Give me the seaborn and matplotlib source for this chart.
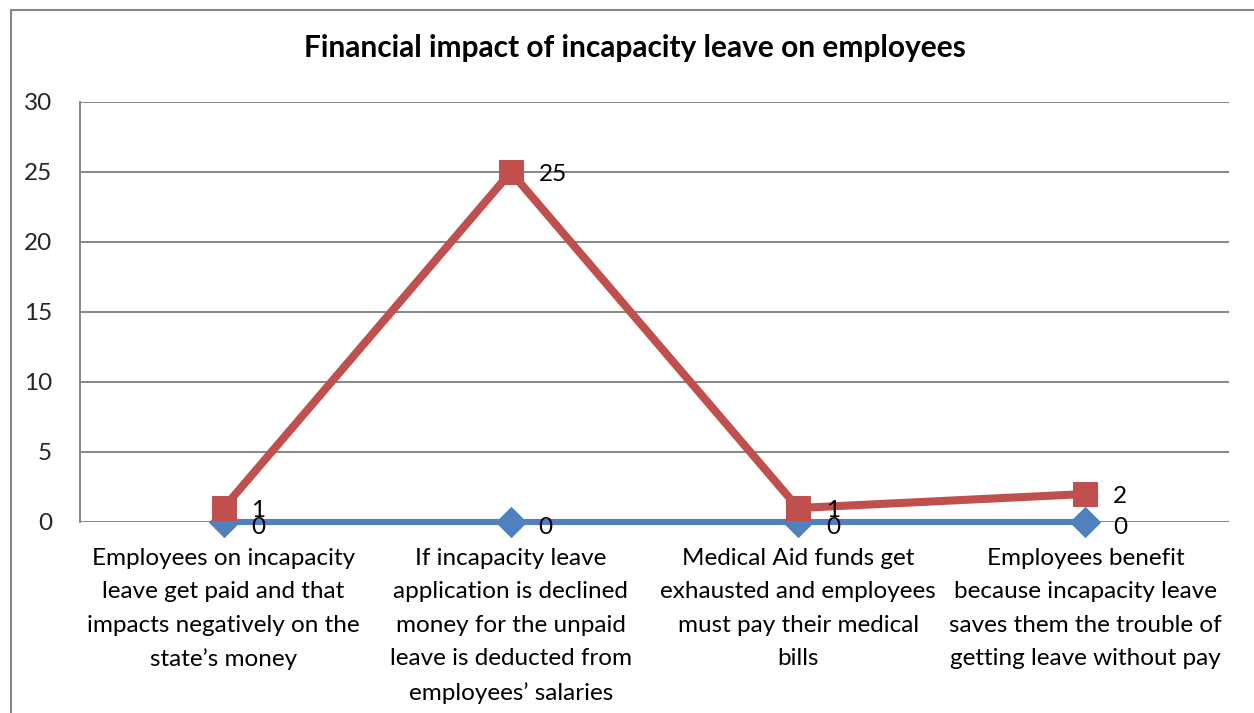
import matplotlib
matplotlib.use("Agg")
import matplotlib.pyplot as plt
from matplotlib.patches import Rectangle
import seaborn as sns
import pandas as pd

# Chart content
title = "Financial impact of incapacity leave on employees"
categories = [
    "Employees on incapacity\nleave get paid and that\nimpacts negatively on the\nstate\u2019s money",
    "If incapacity leave\napplication is declined\nmoney for the unpaid\nleave is deducted from\nemployees\u2019 salaries",
    "Medical Aid funds get\nexhausted and employees\nmust pay their medical\nbills",
    "Employees benefit\nbecause incapacity leave\nsaves them the trouble of\ngetting leave without pay",
]
series_names = ["Series1", "Series2"]
series1_values = [0, 0, 0, 0]
series2_values = [1, 25, 1, 2]
y_ticks = [0, 5, 10, 15, 20, 25, 30]

colors = {"Series1": "#4F81BD", "Series2": "#C0504D"}
markers = {"Series1": "D", "Series2": "s"}

df = pd.DataFrame({
    "pos": list(range(len(categories))) * 2,
    "value": series1_values + series2_values,
    "series": [series_names[0]] * len(categories) + [series_names[1]] * len(categories),
})

sns.set_theme(style="white")
plt.rcParams["font.family"] = ["Lato", "DejaVu Sans"]

W, H = 1254, 713
fig = plt.figure(figsize=(W / 100, H / 100), dpi=100)
ax = fig.add_axes([80 / W, 1 - 522 / H, (1229 - 80) / W, (522 - 102) / H])

# outer chart frame
fig.patches.append(Rectangle((11 / W, -0.1), 1.2, 1 - 10 / H + 0.1, transform=fig.transFigure,
                             fill=False, edgecolor="#868686", linewidth=1.5, zorder=0))

ax.set_axisbelow(True)
ax.yaxis.grid(True, color="#868686", linewidth=1.4)
ax.xaxis.grid(False)

label_size = 17.5
line_widths = {"Series1": 4.4, "Series2": 5.8}
marker_sizes = {"Series1": 15, "Series2": 17.5}
label_dy = {"Series1": -4, "Series2": -1.5}
for name in series_names:
    sub = df[df["series"] == name]
    sns.lineplot(data=sub, x="pos", y="value", ax=ax, color=colors[name],
                 marker=markers[name], markersize=marker_sizes[name],
                 markeredgecolor=colors[name], linewidth=line_widths[name],
                 legend=False, zorder=3 if name == "Series2" else 2, clip_on=False)
    for x, v in zip(sub["pos"], sub["value"]):
        ax.annotate(str(v), (x, v), xytext=(20, label_dy[name]), textcoords="offset points",
                    ha="left", va="center", fontsize=label_size, color="black", zorder=5)

ax.set_xlim(-0.5, len(categories) - 0.5)
ax.set_ylim(0, 30)
ax.set_yticks(y_ticks)
ax.set_xticks(range(len(categories)))
ax.set_xticklabels([""] * len(categories))
ax.tick_params(axis="y", labelsize=label_size, pad=20, length=0)
ax.tick_params(axis="x", length=0)

# category names under each point, with wider line spacing
for i, cat in enumerate(categories):
    ax.annotate(cat, (i, 0), xycoords=("data", "axes fraction"),
                xytext=(0, -18.5), textcoords="offset points",
                ha="center", va="top", multialignment="center",
                fontsize=label_size, linespacing=1.73, color="black",
                annotation_clip=False)

ax.set_xlabel("")
ax.set_ylabel("")

for side in ["top", "right", "bottom"]:
    ax.spines[side].set_visible(False)
ax.spines["left"].set_color("#868686")
ax.spines["left"].set_linewidth(1.4)

fig.text(635 / W, 1 - 48 / H, title, ha="center", va="center",
         fontsize=21.5, fontweight="bold", color="black")

fig.savefig("out.png", dpi=100)
